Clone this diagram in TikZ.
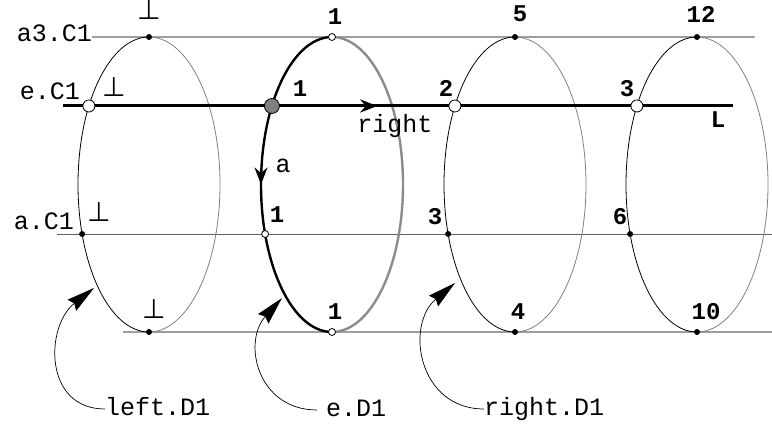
\documentclass[tikz,border=0pt]{standalone}
\usepackage{fontspec}
\setmonofont{Liberation Mono}
\newfontfamily\symfam{DejaVu Sans}
\usepackage{tikz}
\usetikzlibrary{positioning,arrows.meta,calc,decorations.markings}

\begin{document}
\begin{tikzpicture}[x=1pt, y=1pt,
  lb/.style={font=\fontsize{25}{25}\selectfont\ttfamily, inner sep=0pt},
  cl/.style={lb, anchor=base west, text height=14pt, text depth=0pt},
  nb/.style={font=\fontsize{24}{24}\selectfont\ttfamily\bfseries, inner sep=0pt, anchor=base},
  pp/.style={font=\symfam\fontsize{27}{27}\selectfont, inner sep=0pt, anchor=base},
  dot/.style={circle, fill=black, inner sep=0pt, minimum size=6pt},
  ring/.style={circle, draw, fill=white, line width=0.8pt, inner sep=0pt, minimum size=7pt},
  hole/.style={circle, draw, fill=white, line width=0.8pt, inner sep=0pt, minimum size=12pt},
  ball/.style={circle, draw, fill=black!50, line width=0.8pt, inner sep=0pt, minimum size=15pt},
  lv/.style={draw=black!38, line width=1.5pt},
  fr/.style={draw=black, line width=0.8pt},
  bk/.style={draw=black!50, line width=0.8pt},
  co/.style={draw, line width=0.7pt, -{Stealth[length=28pt,width=14pt,inset=3pt]}},
  mk/.style={postaction={decorate}, decoration={markings,
    mark=at position #1 with {\arrow{Stealth[length=17pt,width=13pt]}}}}]
\useasboundingbox (0,0) rectangle (772,426);

% centres of the four discs
\coordinate (E1) at (149,241.5);
\coordinate (E2) at (332,241.5);
\coordinate (E3) at (515,241.5);
\coordinate (E4) at (697,241.5);

% level names
\node[lb, anchor=base east] (la3) at (92,384) {a3.C1};
\node[lb, anchor=base east] (lec) at (80,326) {e.C1};
\node[lb, anchor=base east] (lac) at (74,196) {a.C1};

\coordinate (a3e) at (755,389);
\coordinate (ls) at (63,320);
\coordinate (le) at (733,320);
\coordinate (as) at (57,192);
\coordinate (ae) at (772,192);
\coordinate (bs) at (123,94);
\coordinate (be) at (772,94);

\draw[lv] (la3.east |- a3e) -- (a3e);
\draw[draw=black!62, line width=0.9pt] (as) -- (ae);
\draw[lv] (bs) -- (be);

% discs: front half black, back half grey
\draw[fr] (E1) ++(90:71 and 147.5) arc[start angle=90, end angle=270, x radius=71, y radius=147.5];
\draw[bk] (E1) ++(270:71 and 147.5) arc[start angle=270, end angle=450, x radius=71, y radius=147.5];
\draw[fr, line width=2.4pt, mk=0.5] (E2) ++(90:71 and 147.5) arc[start angle=90, end angle=270, x radius=71, y radius=147.5];
\draw[draw=black!45, line width=2.4pt] (E2) ++(270:71 and 147.5) arc[start angle=270, end angle=450, x radius=71, y radius=147.5];
\draw[fr] (E3) ++(90:71 and 147.5) arc[start angle=90, end angle=270, x radius=71, y radius=147.5];
\draw[bk] (E3) ++(270:71 and 147.5) arc[start angle=270, end angle=450, x radius=71, y radius=147.5];
\draw[fr] (E4) ++(90:71 and 147.5) arc[start angle=90, end angle=270, x radius=71, y radius=147.5];
\draw[bk] (E4) ++(270:71 and 147.5) arc[start angle=270, end angle=450, x radius=71, y radius=147.5];

% the edge L
\draw[line width=3pt, mk=0.469] (ls) -- (le);

% points
\node[dot] (t1) at ($(E1)+(90:71 and 147.5)$) {};
\node[hole] (e1) at ($(E1)+(147.84:71 and 147.5)$) {};
\node[dot] (a1) at ($(E1)+(199.61:71 and 147.5)$) {};
\node[dot] (b1) at ($(E1)+(270:71 and 147.5)$) {};
\node[ring] (t2) at ($(E2)+(90:71 and 147.5)$) {};
\node[ball] (e2) at ($(E2)+(147.84:71 and 147.5)$) {};
\node[ring] (a2) at ($(E2)+(199.61:71 and 147.5)$) {};
\node[ring] (b2) at ($(E2)+(270:71 and 147.5)$) {};
\node[dot] (t3) at ($(E3)+(90:71 and 147.5)$) {};
\node[hole] (e3) at ($(E3)+(147.84:71 and 147.5)$) {};
\node[dot] (a3) at ($(E3)+(199.61:71 and 147.5)$) {};
\node[dot] (b3) at ($(E3)+(270:71 and 147.5)$) {};
\node[dot] (t4) at ($(E4)+(90:71 and 147.5)$) {};
\node[hole] (e4) at ($(E4)+(147.84:71 and 147.5)$) {};
\node[dot] (a4) at ($(E4)+(199.61:71 and 147.5)$) {};
\node[dot] (b4) at ($(E4)+(270:71 and 147.5)$) {};

% values
\node[pp] (p1) at (149,406) {⊥};
\node[pp] (p2) at (114,329) {⊥};
\node[pp] (p3) at (99,204) {⊥};
\node[pp] (p4) at (154,107) {⊥};
\node[nb] (n1) at (335,401) {1};
\node[nb] (n2) at (300,329) {1};
\node[nb] (n3) at (277,203) {1};
\node[nb] (n4) at (335,106) {1};
\node[nb] (n5) at (520,404) {5};
\node[nb] (n6) at (446,329) {2};
\node[nb] (n7) at (435,201) {3};
\node[nb] (n8) at (518,106) {4};
\node[nb] (n9) at (701,403) {12};
\node[nb] (n10) at (627,329) {3};
\node[nb] (n11) at (620,201) {6};
\node[nb] (n12) at (706,106) {10};
\node[nb] (nL) at (718,298) {L};
\node[lb, anchor=base] (rt) at (395,293) {right};
\node[lb, anchor=base] (aa) at (283,253) {a};

% darts
\node[cl] (dl) at (105,10) {left.D1};
\node[cl] (de) at (326,9) {e.D1};
\node[cl] (dr) at (484,10) {right.D1};
\coordinate (k1) at (94,138);
\coordinate (k2) at (282,128);
\coordinate (k3) at (455,143);
\draw[co] (dl.west) to[out=180, in=218, looseness=1.3] (k1);
\draw[co] ([xshift=-9pt]de.west) to[out=180, in=228, looseness=1.3] (k2);
\draw[co] (dr.west) to[out=180, in=220, looseness=1.3] (k3);
\end{tikzpicture}
\end{document}
